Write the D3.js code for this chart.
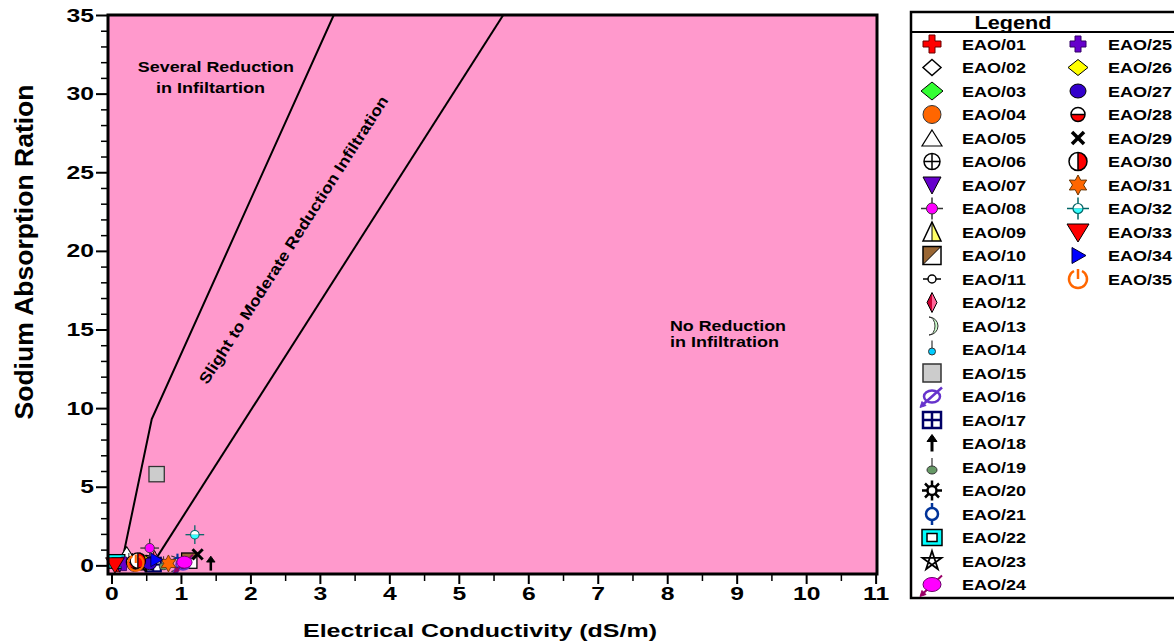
<!DOCTYPE html>
<html>
<head>
<meta charset="utf-8">
<script src="https://cdn.jsdelivr.net/npm/d3@7"></script>
<style>
  body { margin: 0; background: #fff; }
  svg { display: block; font-family: "Liberation Sans", Arial, sans-serif; font-weight: bold; }
</style>
</head>
<body>
<div id="app"></div>
<script>
// Samples: EC (dS/m) and SAR
const sampleIds = [
  "EAO/01", "EAO/02", "EAO/03", "EAO/04", "EAO/05", "EAO/06", "EAO/07",
  "EAO/08", "EAO/09", "EAO/10", "EAO/11", "EAO/12", "EAO/13", "EAO/14",
  "EAO/15", "EAO/16", "EAO/17", "EAO/18", "EAO/19", "EAO/20", "EAO/21",
  "EAO/22", "EAO/23", "EAO/24", "EAO/25", "EAO/26", "EAO/27", "EAO/28",
  "EAO/29", "EAO/30", "EAO/31", "EAO/32", "EAO/33", "EAO/34", "EAO/35"
];
const ecValues = [
  0.08, 0.30, 0.60, 0.33, 0.22, 0.50, 0.12,
  0.55, 0.42, 1.12, 0.70, 0.62, 0.90, 0.25,
  0.65, 1.03, 0.60, 1.43, 0.75, 0.50, 0.95,
  0.07, 0.40, 1.05, 0.18, 0.45, 0.55, 0.30,
  1.24, 0.38, 0.82, 1.20, 0.05, 0.64, 0.35
];
const sarValues = [
  0.10, 0.30, 0.10, 0.10, 0.75, 0.20, 0.05,
  1.10, 0.20, 0.30, 0.20, 0.40, 0.10, 0.30,
  5.80, 0.05, 0.05, 0.10, 0.10, 0.10, 0.15,
  0.25, 0.15, 0.20, 0.10, 0.30, 0.10, 0.20,
  0.70, 0.30, 0.12, 1.95, 0.05, 0.35, 0.15
];

// Boundary lines between the infiltration zones [EC, SAR]
const severeLine = [[0.14, 0], [0.58, 9.3], [3.2, 35]];
const slightLine = [[0.58, 0], [5.64, 35]];

// Axis ticks
const xTickValues = [0, 1, 2, 3, 4, 5, 6, 7, 8, 9, 10, 11];
const xMinorTicks = [0.5, 1.5, 2.5, 3.5, 4.5, 5.5, 6.5, 7.5, 8.5, 9.5, 10.5];
const yTickValues = [0, 5, 10, 15, 20, 25, 30, 35];
const yMinorTicks = [1, 2, 3, 4, 6, 7, 8, 9, 11, 12, 13, 14, 16, 17, 18, 19,
  21, 22, 23, 24, 26, 27, 28, 29, 31, 32, 33, 34];

const width = 1174, height = 644;
const plot = { left: 108, right: 877, top: 15, bottom: 574 };

const svg = d3.select("#app").append("svg")
  .attr("width", width)
  .attr("height", height)
  .attr("viewBox", [0, 0, width, height]);

const x = d3.scaleLinear().domain([-0.05, 11.02]).range([plot.left, plot.right]);
const y = d3.scaleLinear().domain([-0.55, 35]).range([plot.bottom, plot.top]);

// stretch text horizontally, the source picture is wide
function widen(sel, k) {
  sel.each(function () {
    const w = this.getComputedTextLength();
    d3.select(this).attr("textLength", w * k).attr("lengthAdjust", "spacingAndGlyphs");
  });
}

// Plot background
svg.append("rect")
  .attr("x", plot.left).attr("y", plot.top)
  .attr("width", plot.right - plot.left).attr("height", plot.bottom - plot.top)
  .attr("fill", "#ff99cc");

svg.append("clipPath").attr("id", "clip")
  .append("rect")
  .attr("x", plot.left).attr("y", plot.top)
  .attr("width", plot.right - plot.left).attr("height", plot.bottom - plot.top);

// Zone boundaries
const line = d3.line().x(d => x(d[0])).y(d => y(d[1]));
svg.append("g").attr("clip-path", "url(#clip)")
  .selectAll("path")
  .data([severeLine, slightLine])
  .join("path")
  .attr("d", line)
  .attr("fill", "none")
  .attr("stroke", "#000")
  .attr("stroke-width", 2);

// Zone labels
const zoneLabels = [
  { text: "Several Reduction", ec: 0.38, sar: 31.7, len: 156 },
  { text: "in Infiltartion", ec: 0.64, sar: 30.4, len: 109 },
  { text: "No Reduction", ec: 8.04, sar: 15.24, len: 116 },
  { text: "in Infiltration", ec: 8.04, sar: 14.2, len: 109 }
];
svg.append("g")
  .selectAll("text")
  .data(zoneLabels)
  .join("text")
  .attr("x", d => x(d.ec))
  .attr("y", d => y(d.sar))
  .attr("dy", "0.35em")
  .attr("font-size", 15)
  .attr("textLength", d => d.len)
  .attr("lengthAdjust", "spacingAndGlyphs")
  .text(d => d.text);

svg.append("text")
  .attr("transform", `translate(${x(2.62)},${y(20.7)}) rotate(-57.5)`)
  .attr("text-anchor", "middle")
  .attr("dy", "0.35em")
  .attr("font-size", 15.5)
  .attr("textLength", 338)
  .attr("lengthAdjust", "spacingAndGlyphs")
  .text("Slight to Moderate Reduction Infiltration");

// ---- marker shapes ----
function shape(g, pts, fill, stroke, sw = 1) {
  g.append("path").attr("d", "M" + pts.join("L") + "Z")
    .attr("fill", fill).attr("stroke", stroke).attr("stroke-width", sw);
}
function pathd(g, d, fill, stroke, sw = 1) {
  g.append("path").attr("d", d).attr("fill", fill).attr("stroke", stroke).attr("stroke-width", sw);
}
function circ(g, cx, cy, r, fill, stroke, sw = 1) {
  g.append("circle").attr("cx", cx).attr("cy", cy).attr("r", r)
    .attr("fill", fill).attr("stroke", stroke).attr("stroke-width", sw);
}
function ell(g, cx, cy, rx, ry, fill, stroke, sw = 1) {
  g.append("ellipse").attr("cx", cx).attr("cy", cy).attr("rx", rx).attr("ry", ry)
    .attr("fill", fill).attr("stroke", stroke).attr("stroke-width", sw);
}
function seg(g, x1, y1, x2, y2, stroke = "#000", sw = 1.5) {
  g.append("line").attr("x1", x1).attr("y1", y1).attr("x2", x2).attr("y2", y2)
    .attr("stroke", stroke).attr("stroke-width", sw);
}
function box(g, x0, y0, w, h, fill, stroke, sw = 1) {
  g.append("rect").attr("x", x0).attr("y", y0).attr("width", w).attr("height", h)
    .attr("fill", fill).attr("stroke", stroke).attr("stroke-width", sw);
}
function plusPts(a, l) {
  return [[-a, -l], [a, -l], [a, -a], [l, -a], [l, a], [a, a], [a, l], [-a, l],
    [-a, a], [-l, a], [-l, -a], [-a, -a]];
}
const tri = 5.5;
const symbolDraw = {
  "EAO/01": g => shape(g, plusPts(3, 9), "#ff0000", "#660000"),
  "EAO/02": g => shape(g, [[0, -8], [9, 0], [0, 8], [-9, 0]], "#fff", "#000", 1.5),
  "EAO/03": g => shape(g, [[0, -9], [11, 0], [0, 9], [-11, 0]], "#33ff33", "#000"),
  "EAO/04": g => circ(g, 0, 0, 9, "#ff6600", "#333"),
  "EAO/05": g => shape(g, [[0, -8], [10, 8], [-10, 8]], "#fff", "#000", 1.2),
  "EAO/06": g => { circ(g, 0, 0, 8, "none", "#000", 1.5); seg(g, -8, 0, 8, 0); seg(g, 0, -8, 0, 8); },
  "EAO/07": g => shape(g, [[-9, -8], [9, -8], [0, 9]], "#6600cc", "#000"),
  "EAO/08": g => {
    seg(g, -11, 0, 11, 0, "#333"); seg(g, 0, -11, 0, 11, "#333");
    circ(g, 0, 0, 5.5, "#ff00ff", "#333");
  },
  "EAO/09": g => {
    shape(g, [[0, -10], [9, 9], [-9, 9]], "#fff", "none");
    shape(g, [[0, -10], [9, 9], [0, 9]], "#ffff66", "none");
    shape(g, [[0, -10], [9, 9], [-9, 9]], "none", "#000", 1.5);
    seg(g, 0, -10, 0, 9, "#000", 1);
  },
  "EAO/10": g => {
    box(g, -9, -9, 18, 18, "#fff", "none");
    shape(g, [[-9, -9], [9, -9], [-9, 9]], "#996633", "none");
    box(g, -9, -9, 18, 18, "none", "#000", 1.5);
    seg(g, 9, -9, -9, 9, "#000", 1);
  },
  "EAO/11": g => { seg(g, -9, 0, 9, 0, "#000", 1.5); circ(g, 0, 0, 4, "#fff", "#000", 1.5); },
  "EAO/12": g => {
    shape(g, [[0, -10], [-5, 0], [0, 10]], "#cc0033", "none");
    shape(g, [[0, -10], [5, 0], [0, 10]], "#ff6699", "none");
    shape(g, [[0, -10], [5, 0], [0, 10], [-5, 0]], "none", "#000");
  },
  "EAO/13": g => pathd(g, "M-3,-9A9,9 0 0 1 -3,9A6,9 0 0 0 -3,-9Z", "#ccffcc", "#333"),
  "EAO/14": g => { seg(g, 0, -9, 0, -1, "#333", 1.2); circ(g, 0, 2, 3.5, "#00ccff", "#333"); },
  "EAO/15": g => box(g, -9, -9, 18, 18, "#cccccc", "#333", 1.5),
  "EAO/16": g => {
    ell(g, 0, 0, 8, 6, "none", "#6633cc", 2.5);
    seg(g, -9, 8, 10, -9, "#6633cc", 2.5);
    shape(g, [[-12, 11], [-10, 5], [-6, 9]], "#6633cc", "#6633cc");
  },
  "EAO/17": g => {
    box(g, -9, -8, 18, 16, "#fff", "#000066", 2.5);
    seg(g, -9, 0, 9, 0, "#000066", 2.5); seg(g, 0, -8, 0, 8, "#000066", 2.5);
  },
  "EAO/18": g => { seg(g, 0, -3, 0, 8, "#000", 3); shape(g, [[0, -9], [5, -2], [-5, -2]], "#000", "#000"); },
  "EAO/19": g => { seg(g, 0, -9, 0, 0, "#333", 1.2); ell(g, 0, 3, 5, 4, "#669966", "#333"); },
  "EAO/20": g => {
    seg(g, -10, 0, 10, 0, "#000", 2.5); seg(g, 0, -10, 0, 10, "#000", 2.5);
    seg(g, -7, -7, 7, 7, "#000", 2.5); seg(g, -7, 7, 7, -7, "#000", 2.5);
    circ(g, 0, 0, 4.5, "#fff", "#000", 2.5);
  },
  "EAO/21": g => {
    seg(g, 0, -11, 0, -6, "#003399", 2.5); seg(g, 0, 6, 0, 11, "#003399", 2.5);
    circ(g, 0, 0, 6, "none", "#003399", 2.5);
  },
  "EAO/22": g => { box(g, -10, -8, 20, 16, "#00ffff", "#000", 1.5); box(g, -5, -4, 10, 8, "#fff", "#000", 1.5); },
  "EAO/23": g => {
    const pts = [0, 2, 4, 1, 3].map(k => {
      const a = (-90 + k * 72) * Math.PI / 180;
      return [10 * Math.cos(a), 10 * Math.sin(a)];
    });
    shape(g, pts, "none", "#000", 1.8);
  },
  "EAO/24": g => {
    seg(g, -10, 10, 10, -9, "#990066", 2);
    shape(g, [[-12, 12], [-10, 6], [-6, 10]], "#990066", "#990066");
    ell(g, 0, 0, 9, 7, "#ff00ff", "#660066");
  },
  "EAO/25": g => shape(g, plusPts(3, 8), "#6600cc", "#330066"),
  "EAO/26": g => shape(g, [[0, -8], [10, 0], [0, 8], [-10, 0]], "#ffff00", "#000"),
  "EAO/27": g => ell(g, 0, 0, 8, 7, "#3300cc", "#000"),
  "EAO/28": g => {
    pathd(g, "M-7,0A7,7 0 0 1 7,0Z", "#fff", "none");
    pathd(g, "M-7,0A7,7 0 0 0 7,0Z", "#ff0000", "none");
    circ(g, 0, 0, 7, "none", "#000", 1.5); seg(g, -7, 0, 7, 0, "#000", 1.5);
  },
  "EAO/29": g => { seg(g, -6, -6, 6, 6, "#000", 3.5); seg(g, -6, 6, 6, -6, "#000", 3.5); },
  "EAO/30": g => {
    pathd(g, "M0,-9A9,9 0 0 0 0,9Z", "#fff", "none");
    pathd(g, "M0,-9A9,9 0 0 1 0,9Z", "#ff0000", "none");
    circ(g, 0, 0, 9, "none", "#000", 1.5); seg(g, 0, -9, 0, 9, "#000", 1.5);
  },
  "EAO/31": g => {
    const pts = d3.range(12).map(i => {
      const a = (-90 + i * 30) * Math.PI / 180, r = i % 2 ? tri : 10;
      return [r * Math.cos(a), r * Math.sin(a)];
    });
    shape(g, pts, "#ff6600", "#663300");
  },
  "EAO/32": g => {
    seg(g, -11, 0, 11, 0, "#006666"); seg(g, 0, -11, 0, -5, "#006666"); seg(g, 0, 5, 0, 11, "#006666");
    pathd(g, "M-5,0A5,5 0 0 1 5,0Z", "#fff", "none");
    pathd(g, "M-5,0A5,5 0 0 0 5,0Z", "#33ffff", "none");
    circ(g, 0, 0, 5, "none", "#006666", 1.2);
  },
  "EAO/33": g => shape(g, [[-11, -8], [11, -8], [0, 10]], "#ff0000", "#000"),
  "EAO/34": g => shape(g, [[-6, -8], [8, 0], [-6, 8]], "#0000ff", "#000033"),
  "EAO/35": g => {
    pathd(g, "M-4,-8A9,9 0 1 0 4,-8", "none", "#ff6600", 2.5);
    seg(g, 0, -10, 0, 0, "#ff6600", 2.5);
  }
};

// Sample markers
const samples = sampleIds.map((id, i) => ({ id, ec: ecValues[i], sar: sarValues[i] }));
svg.append("g")
  .selectAll("g")
  .data(samples)
  .join("g")
  .attr("transform", d => `translate(${x(d.ec)},${y(d.sar)}) scale(0.85)`)
  .each(function (d) { symbolDraw[d.id](d3.select(this)); });

// Frame
svg.append("rect")
  .attr("x", plot.left).attr("y", plot.top)
  .attr("width", plot.right - plot.left).attr("height", plot.bottom - plot.top)
  .attr("fill", "none").attr("stroke", "#000").attr("stroke-width", 3);

// Axes
function styleAxis(g, k) {
  g.select(".domain").remove();
  g.selectAll(".tick line").attr("stroke-width", 2);
  g.attr("font-family", null).attr("font-size", 19).attr("font-weight", "bold");
  g.selectAll(".tick text").attr("fill", "#000").call(widen, k);
}
svg.append("g")
  .attr("transform", `translate(0,${plot.bottom})`)
  .call(d3.axisBottom(x).tickValues(xMinorTicks).tickSize(7).tickFormat(""))
  .call(g => { g.select(".domain").remove(); g.selectAll("line").attr("stroke-width", 1.5); });
svg.append("g")
  .attr("transform", `translate(0,${plot.bottom})`)
  .call(d3.axisBottom(x).tickValues(xTickValues).tickSize(10).tickPadding(3))
  .call(styleAxis, 1.3);

svg.append("g")
  .attr("transform", `translate(${plot.left},0)`)
  .call(d3.axisLeft(y).tickValues(yMinorTicks).tickSize(7).tickFormat(""))
  .call(g => { g.select(".domain").remove(); g.selectAll("line").attr("stroke-width", 1.5); });
svg.append("g")
  .attr("transform", `translate(${plot.left},0)`)
  .call(d3.axisLeft(y).tickValues(yTickValues).tickSize(12).tickPadding(2))
  .call(styleAxis, 1.3);

// Axis titles
svg.append("text")
  .attr("x", 480).attr("y", 637)
  .attr("text-anchor", "middle")
  .attr("font-size", 19)
  .attr("textLength", 354).attr("lengthAdjust", "spacingAndGlyphs")
  .text("Electrical Conductivity (dS/m)");

svg.append("text")
  .attr("transform", "translate(33,252) rotate(-90)")
  .attr("text-anchor", "middle")
  .attr("font-size", 26)
  .attr("textLength", 335).attr("lengthAdjust", "spacingAndGlyphs")
  .text("Sodium Absorption Ration");

// Legend
const legend = svg.append("g");
legend.append("rect")
  .attr("x", 911).attr("y", 12)
  .attr("width", 320).attr("height", 586)
  .attr("fill", "#fff").attr("stroke", "#000").attr("stroke-width", 2.5);
legend.append("text")
  .attr("x", 1013).attr("y", 29)
  .attr("text-anchor", "middle")
  .attr("font-size", 18)
  .attr("textLength", 77).attr("lengthAdjust", "spacingAndGlyphs")
  .text("Legend");
legend.append("line")
  .attr("x1", 911).attr("x2", width).attr("y1", 32).attr("y2", 32)
  .attr("stroke", "#000").attr("stroke-width", 2);

const perColumn = 24, rowStep = 23.5;
const item = legend.selectAll("g.item")
  .data(sampleIds)
  .join("g")
  .attr("class", "item")
  .attr("transform", (d, i) => {
    const col = i < perColumn ? 0 : 1, row = col ? i - perColumn : i;
    return `translate(${col ? 1078 : 932},${44 + row * rowStep})`;
  });
item.each(function (d) { symbolDraw[d](d3.select(this).append("g")); });
item.append("text")
  .attr("x", 30)
  .attr("dy", "0.36em")
  .attr("font-size", 15.5)
  .attr("textLength", 64).attr("lengthAdjust", "spacingAndGlyphs")
  .text(d => d);
</script>
</body>
</html>
